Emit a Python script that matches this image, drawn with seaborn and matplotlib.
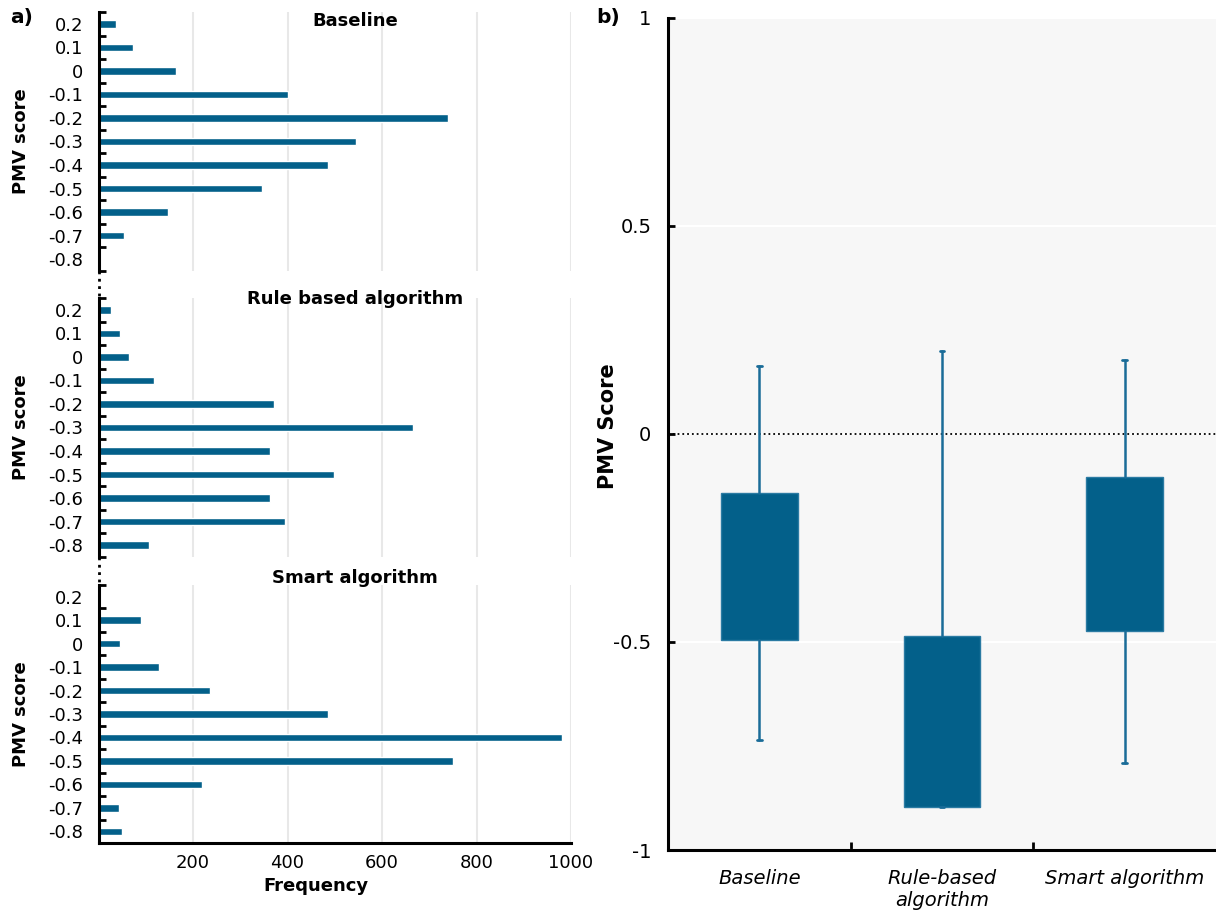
import numpy as np
import matplotlib
matplotlib.use("Agg")
import matplotlib.pyplot as plt
from matplotlib.lines import Line2D
from matplotlib.ticker import FixedLocator
import seaborn as sns

# PMV categories (top to bottom) and frequency counts per strategy
pmv_levels = ["0.2", "0.1", "0", "-0.1", "-0.2", "-0.3", "-0.4", "-0.5", "-0.6", "-0.7", "-0.8"]
baseline_freq = [37, 72, 163, 402, 740, 546, 486, 347, 147, 53, 0]
rule_freq = [26, 45, 65, 117, 371, 665, 364, 499, 364, 395, 107]
smart_freq = [0, 91, 46, 128, 235, 486, 980, 750, 218, 44, 49]
freq_ticks = [200, 400, 600, 800, 1000]

# box summary per strategy
groups = ["Baseline", "Rule-based\nalgorithm", "Smart algorithm"]
q1 = [-0.495, -0.896, -0.474]
q3 = [-0.142, -0.486, -0.104]
whislo = [-0.735, -0.896, -0.790]
whishi = [0.163, 0.200, 0.178]
pmv_ticks = [-1, -0.5, 0, 0.5, 1]
pmv_tick_labels = ["-1", "-0.5", "0", "0.5", "1"]

sns.set_style("white")
plt.rcParams["font.family"] = ["DejaVu Sans"]
plt.rcParams["text.color"] = "black"
plt.rcParams["axes.labelcolor"] = "black"
plt.rcParams["xtick.color"] = "black"
plt.rcParams["ytick.color"] = "black"

BLUE = "#03608a"
W, H = 1216, 911


def rect(l, t, r, b):
    return [l / W, 1 - b / H, (r - l) / W, (b - t) / H]


fig = plt.figure(figsize=(12.16, 9.11), dpi=100)

# ---- a) stacked horizontal histograms
panels = [("Baseline", baseline_freq, 21, rect(98.5, 12, 571, 271)),
          ("Rule based algorithm", rule_freq, 299, rect(98.5, 298, 571, 557)),
          ("Smart algorithm", smart_freq, 578, rect(98.5, 585, 571, 843))]

for i, (title, freq, ty, r) in enumerate(panels):
    ax = fig.add_axes(r)
    ax.set_axisbelow(True)
    sns.barplot(x=freq, y=pmv_levels, orient="h", color=BLUE, width=0.32,
                saturation=1, ax=ax)
    ax.set_xlim(0, 1000)
    ax.set_ylim(10.5, -0.5)
    ax.set_xticks(freq_ticks)
    ax.grid(axis="x", color="#e8e8e8", lw=1.5)
    ax.grid(axis="y", visible=False)
    for s in ["top", "right"]:
        ax.spines[s].set_visible(False)
    ax.spines["left"].set_color("black")
    ax.spines["left"].set_linewidth(2.2)
    ax.tick_params(axis="y", which="major", length=0, pad=11, labelsize=13)
    ax.yaxis.set_minor_locator(FixedLocator(np.arange(-0.5, 11, 1)))
    ax.tick_params(axis="y", which="minor", direction="in", length=5, width=2,
                   color="black", left=True)
    ax.set_ylabel("PMV score", fontsize=13, fontweight="bold")
    ax.yaxis.set_label_coords(-0.145, 0.5)
    if i < 2:
        ax.spines["bottom"].set_visible(False)
        ax.tick_params(axis="x", length=0, labelbottom=False)
    else:
        ax.spines["bottom"].set_color("black")
        ax.spines["bottom"].set_linewidth(2.2)
        ax.tick_params(axis="x", length=0, pad=8, labelsize=13)
        ax.set_xlabel("Frequency", fontsize=13, fontweight="bold")
        ax.xaxis.set_label_coords((316 - 98.5) / 472.5, -0.13)
    fig.text(355 / W, 1 - ty / H, title, ha="center", va="center",
             fontsize=13, fontweight="bold")

# dotted axis breaks between panels
for top, bottom in [(271, 298), (557, 585)]:
    fig.add_artist(Line2D([98.5 / W] * 2, [1 - top / H, 1 - bottom / H],
                          ls=":", color="black", lw=2))

# ---- b) box summary
axr = fig.add_axes(rect(668, 18, 1216, 850))
axr.set_facecolor("#f7f7f7")
axr.set_axisbelow(True)
stats = [dict(label=g, q1=a, q3=b, med=a, whislo=c, whishi=d, fliers=[])
         for g, a, b, c, d in zip(groups, q1, q3, whislo, whishi)]
axr.bxp(stats, positions=range(len(groups)), widths=0.42, patch_artist=True,
        showfliers=False, capwidths=0.025,
        boxprops=dict(facecolor=BLUE, edgecolor="#2b7ba3", lw=1),
        whiskerprops=dict(color="#1a6c98", lw=1.8),
        capprops=dict(color="#1a6c98", lw=2),
        medianprops=dict(lw=0))
axr.axhline(0, ls=":", color="black", lw=1.3, zorder=1)
axr.set_xlim(-0.5, 2.5)
axr.set_ylim(-1, 1)
axr.set_yticks(pmv_ticks)
axr.set_yticklabels(pmv_tick_labels)
axr.grid(axis="y", color="white", lw=1.5)
axr.grid(axis="x", visible=False)
axr.set_xticks(range(len(groups)))
axr.set_xticklabels(groups, fontstyle="italic", fontsize=14)
axr.xaxis.set_minor_locator(FixedLocator([0.5, 1.5]))
axr.tick_params(axis="x", which="major", length=0, pad=14)
axr.tick_params(axis="x", which="minor", direction="in", length=6, width=2,
                color="black", bottom=True)
axr.tick_params(axis="y", direction="in", length=5, width=2, color="black",
                pad=12, labelsize=14, left=True)
for s in ["top", "right"]:
    axr.spines[s].set_visible(False)
for s in ["left", "bottom"]:
    axr.spines[s].set_color("black")
    axr.spines[s].set_linewidth(2.2)
axr.set_ylabel("PMV Score", fontsize=15, fontweight="bold")
axr.yaxis.set_label_coords(-0.091, 0.51)

fig.text(22 / W, 1 - 18 / H, "a)", ha="center", va="center", fontsize=14.5,
         fontweight="bold")
fig.text(608 / W, 1 - 18 / H, "b)", ha="center", va="center", fontsize=14.5,
         fontweight="bold")

fig.savefig("out.png", dpi=100)
